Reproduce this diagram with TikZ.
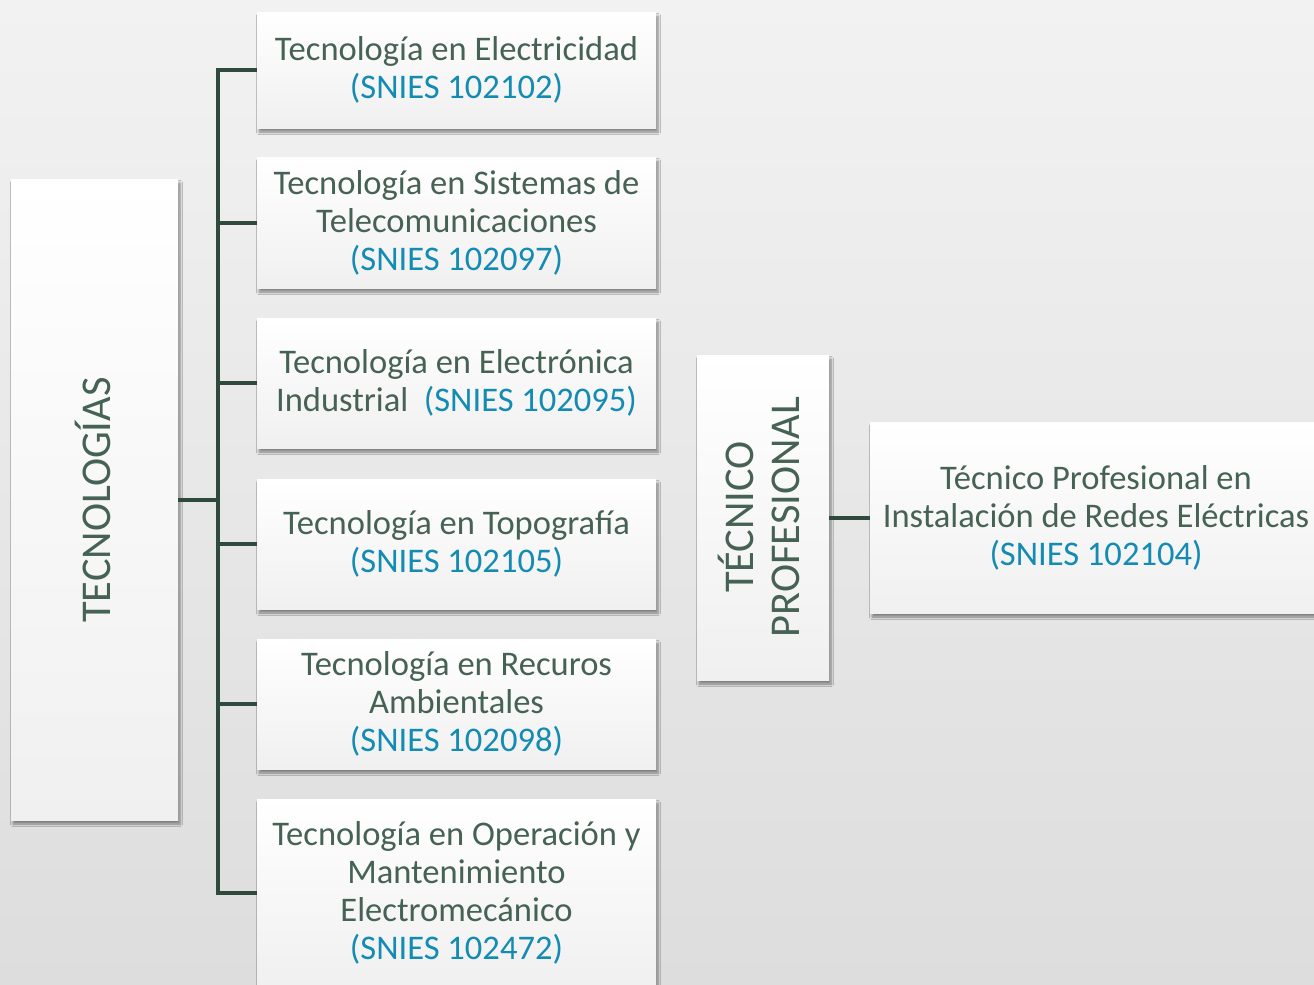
\documentclass[tikz,border=0pt]{standalone}
\usepackage{fontspec}
\setmainfont{Carlito}
\usetikzlibrary{shadows.blur}
\definecolor{txt}{RGB}{70,98,84}
\definecolor{snies}{RGB}{20,139,178}
\definecolor{conn}{RGB}{47,74,60}
\definecolor{bgtop}{RGB}{242,242,242}
\definecolor{bgbot}{RGB}{221,221,221}
\definecolor{boxbot}{RGB}{240,240,240}
\tikzset{
  card/.style={rectangle, inner sep=0pt, align=center, text=txt,
    top color=white, bottom color=boxbot, draw=none,
    font=\fontsize{25.9}{28.5}\selectfont,
    blur shadow={shadow xshift=1.5pt, shadow yshift=-3pt, shadow blur steps=6, shadow opacity=45}},
  rotlabel/.style={text=txt, align=center, rotate=90, font=\fontsize{31.8}{34}\selectfont},
  link/.style={draw=conn, line width=3pt, line join=miter}
}
\newcommand{\sn}[1]{\textcolor{snies}{#1}}
\begin{document}
\begin{tikzpicture}[x=0.75pt, y=-0.75pt]
\useasboundingbox (0,0) rectangle (1314,985);
\clip (0,0) rectangle (1314,985);
\shade[top color=bgtop, bottom color=bgbot] (0,0) rectangle (1314,985);

\node[card, minimum width=125.25pt, minimum height=480.75pt] (tec) at (94.5,499.5) {};
\node[rotlabel] (tecl) at (93,500) {TECNOLOGÍAS};

\node[card, minimum width=299.25pt, minimum height=87pt] (b1) at (456.5,70)
  {\raisebox{-1pt}{}Tecnología en Electricidad\\\sn{(SNIES 102102)}};
\node[card, minimum width=299.25pt, minimum height=98.25pt] (b2) at (456.5,222.5)
  {Tecnología en Sistemas de\\Telecomunicaciones\\\sn{(SNIES 102097)}};
\node[card, minimum width=299.25pt, minimum height=97.5pt] (b3) at (456.5,383)
  {Tecnología en Electrónica\\Industrial\ \ \sn{(SNIES 102095)}};
\node[card, minimum width=299.25pt, minimum height=97.5pt] (b4) at (456.5,544)
  {Tecnología en Topografía\\\sn{(SNIES 102105)}};
\node[card, minimum width=299.25pt, minimum height=97.5pt] (b5) at (456.5,704)
  {Tecnología en Recuros\\Ambientales\\\sn{(SNIES 102098)}};
\node[card, minimum width=299.25pt, minimum height=140.25pt] (b6) at (456.5,892.5)
  {Tecnología en Operación y\\Mantenimiento\\Electromecánico\\\sn{(SNIES 102472)}};

\node[card, minimum width=99pt, minimum height=243.75pt] (tp) at (763,517.5) {};
\node[rotlabel] (tpl) at (759,517) {TÉCNICO\\PROFESIONAL};

\node[card, minimum width=339pt, minimum height=143.25pt] (tr) at (1096,517.5)
  {Técnico Profesional en\\Instalación de Redes Eléctricas\\\sn{(SNIES 102104)}};

\coordinate (bus) at (218,0);
\draw[link] (tec.east) -- (tec.east -| bus);
\draw[link] (b1.west) -| (bus |- b6.west) -- (b6.west);
\draw[link] (b2.west) -- (b2.west -| bus);
\draw[link] (b3.west) -- (b3.west -| bus);
\draw[link] (b4.west) -- (b4.west -| bus);
\draw[link] (b5.west) -- (b5.west -| bus);
\draw[link] (tp.east) -- (tr.west);
\end{tikzpicture}
\end{document}
